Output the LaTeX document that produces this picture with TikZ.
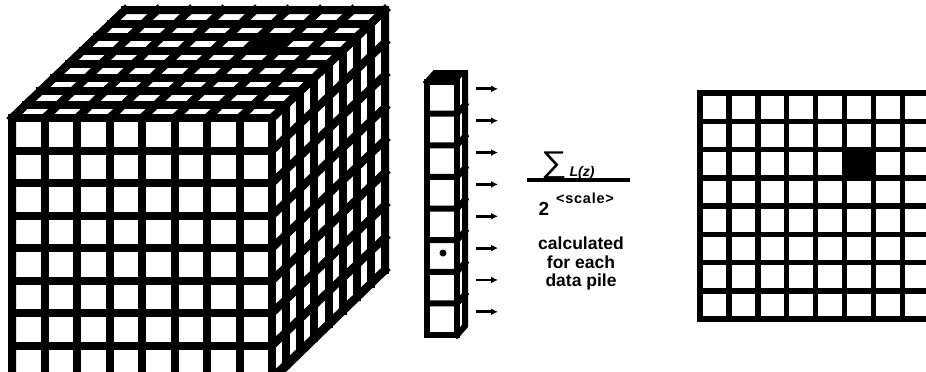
\documentclass[tikz,border=0pt]{standalone}
\usepackage{fontspec}
\setmainfont{Liberation Sans}
\usetikzlibrary{arrows.meta}

\begin{document}
\begin{tikzpicture}[>={Latex[length=7pt,width=7pt]}, x=1pt, y=-1pt,
    cubeline/.style={line width=8pt, line cap=rect},
    pileline/.style={line width=6pt, line cap=rect},
    gridline/.style={line width=5.5pt, line cap=rect}]
  \clip (0,0) rectangle (926,372);
  \fill[white] (0,0) rectangle (926,372);

  % Data cube
  \foreach \i in {0,...,8} {
    \draw[cubeline] (12+32.5*\i,118) -- ++(0,260);
    \draw[cubeline] (12,118+32.5*\i) -- ++(260,0);
    \draw[cubeline] (12+32.5*\i,118) -- ++(113,-108);
    \draw[cubeline] (12+14.125*\i,118-13.5*\i) -- ++(260,0);
    \draw[cubeline] (272+14.125*\i,118-13.5*\i) -- ++(0,260);
    \draw[cubeline] (272,118+32.5*\i) -- ++(113,-108);
  }
  \fill (12+32.5*5+14.125*5,118-13.5*5) -- ++(32.5,0) -- ++(14.125,-13.5) -- ++(-32.5,0) -- cycle;
  \draw[line width=8pt, line join=miter] (12,380) -- (12,118) -- (125,10) -- (385,10) -- (385,270) -- (272,380);

  % Data pile
  \fill (427,82) -- ++(8,-9) -- ++(30,0) -- (457,82) -- cycle;
  \draw[pileline] (427,82) rectangle (457,335);
  \draw[pileline, line join=miter] (427,82) -- ++(8,-9) -- ++(30,0) -- ++(0,253) -- (457,335);
  \foreach \i in {1,...,7} {
    \draw[pileline] (427,82+31.625*\i) -- ++(30,0) -- ++(8,-9);
  }
  \fill (443,253) circle (3.5);

  % Arrows out of the pile
  \foreach \i in {1,...,8} {
    \coordinate (s\i) at (476,57+31.85*\i);
    \coordinate (t\i) at (498,57+31.85*\i);
    \draw[->, line width=2.8pt] (s\i) -- (t\i);
  }

  % Formula
  \node[font=\fontsize{30}{30}\selectfont, anchor=base, inner sep=0] (sigma) at (554,172) {\scalebox{1.2}[1]{∑}};
  \node[font=\bfseries\itshape\fontsize{14}{14}\selectfont, anchor=base, inner sep=0] (lz) at (582,176) {L(z)};
  \coordinate (barl) at (527,180);
  \coordinate (barr) at (630,180);
  \draw[line width=4pt] (barl) -- (barr);
  \node[font=\bfseries\fontsize{19}{19}\selectfont, anchor=base, inner sep=0] (two) at (544,215) {2};
  \node[font=\bfseries\fontsize{14.5}{14.5}\selectfont\addfontfeature{LetterSpace=5}, anchor=base, inner sep=0] (scale) at (585,203) {<scale>};
  \node[font=\bfseries\fontsize{17.5}{18.5}\selectfont, align=center, anchor=north, inner sep=0] (note) at (581,237) {calculated\\for each\\data pile};

  % Result grid
  \foreach \i in {0,...,8} {
    \draw[gridline] (700+28.9*\i,93) -- ++(0,226);
    \draw[gridline] (700,93+28.25*\i) -- ++(231.2,0);
  }
  \fill (700+28.9*5,93+28.25*2) rectangle ++(28.9,28.25);
\end{tikzpicture}
\end{document}
